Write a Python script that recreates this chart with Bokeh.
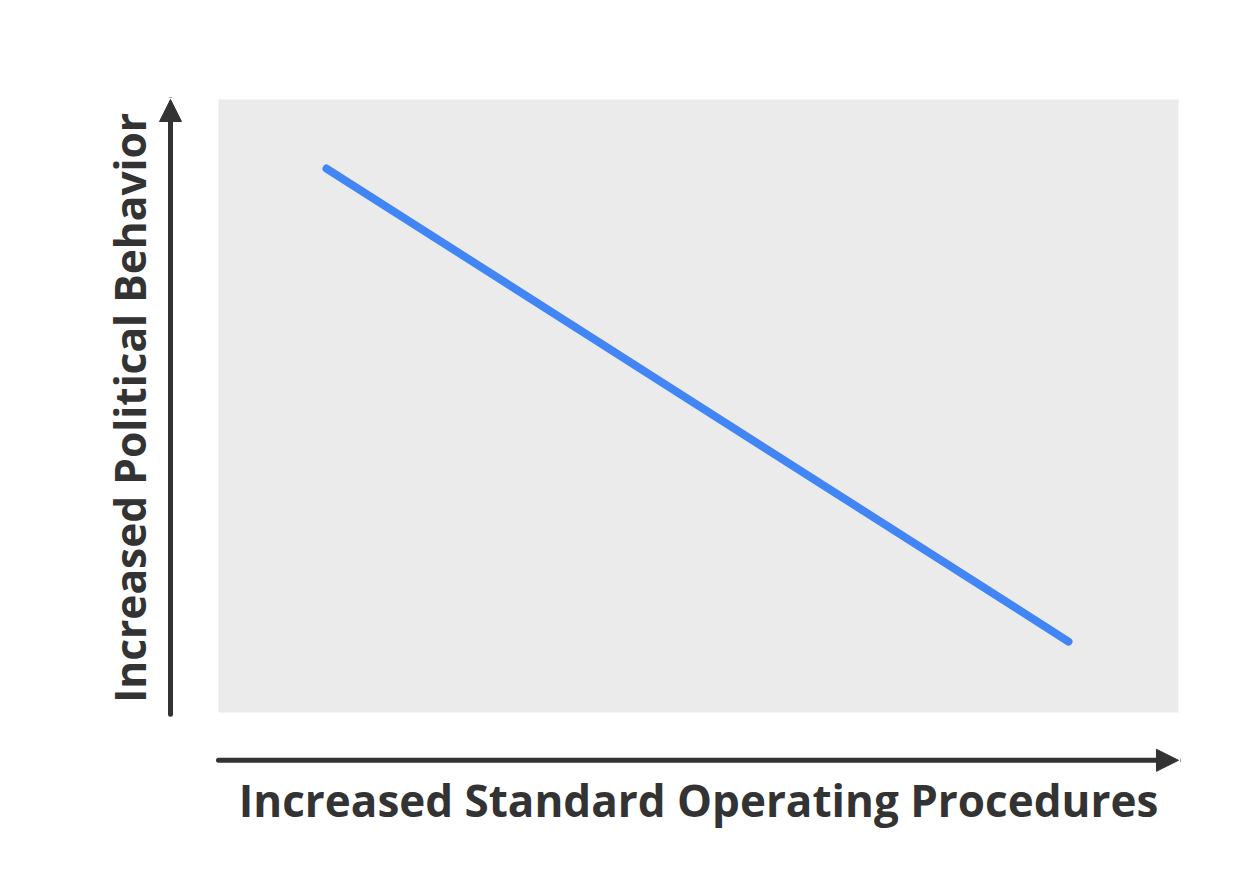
from bokeh.plotting import figure
from bokeh.models import Range1d, Arrow, NormalHead, Label
from bokeh.embed import file_html
from bokeh.resources import INLINE
import math

# Data (conceptual units: gray panel spans 0..10 on both axes)
line_x = [1.125, 8.854]
line_y = [8.874, 1.158]
x_label = "Increased Standard Operating Procedures"
y_label = "Increased Political Behavior"

W, H = 1235, 860
p = figure(width=W, height=H, output_backend="svg", toolbar_location=None,
           x_range=Range1d(-2.271, 10.594), y_range=Range1d(-2.4145, 11.6155),
           min_border=0, background_fill_color="white", border_fill_color="white")
p.axis.visible = False
p.grid.visible = False
p.outline_line_color = None

# panel
p.quad(left=[0], right=[10], bottom=[0], top=[10], fill_color="#ebebeb", line_color=None)

# data line
p.line(line_x, line_y, line_color="#4285f4", line_width=8, line_cap="round")

# axis arrows
p.add_layout(Arrow(x_start=-0.5, y_start=-0.03, x_end=-0.5, y_end=10,
                   line_color="#333333", line_width=5, line_cap="round",
                   end=NormalHead(size=22, fill_color="#333333", line_color="#333333", line_width=1)))
p.add_layout(Arrow(x_start=0, y_start=-0.78, x_end=10, y_end=-0.78,
                   line_color="#333333", line_width=5, line_cap="round",
                   end=NormalHead(size=22, fill_color="#333333", line_color="#333333", line_width=1)))

# labels
p.add_layout(Label(x=5, y=-1.42, text=x_label, text_align="center", text_baseline="alphabetic",
                   text_font="Open Sans", text_font_style="bold", text_font_size="44px", text_color="#333333"))
p.add_layout(Label(x=-0.93, y=4.97, text=y_label, text_align="center", text_baseline="alphabetic",
                   angle=math.pi/2, text_font="Open Sans", text_font_style="bold", text_font_size="42.5px",
                   text_color="#333333"))

open("out.html", "w").write(file_html(p, INLINE))
